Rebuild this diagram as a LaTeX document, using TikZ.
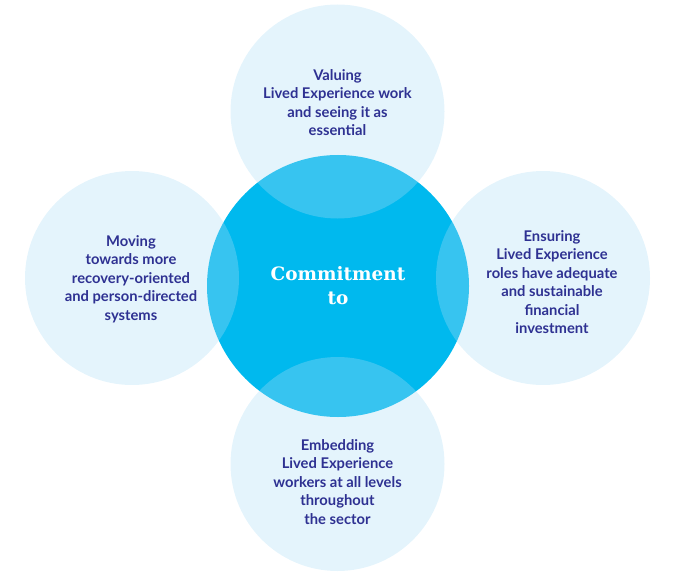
\documentclass[tikz,border=0pt]{standalone}
\usepackage{fontspec}
\usepackage{xcolor}
\newfontfamily\petalfont{Lato}
\newfontfamily\hubfont{DejaVu Serif}
\definecolor{hubblue}{HTML}{00B9EE}
\definecolor{petalblue}{RGB}{172,221,245}
\definecolor{textblue}{HTML}{2E3192}

\begin{document}
\begin{tikzpicture}[x=1bp,y=-1bp,
    hub/.style={circle,fill=hubblue,minimum size=262bp,inner sep=0pt},
    petal/.style={circle,fill=petalblue,fill opacity=.32,minimum size=214bp,inner sep=0pt},
    hubtext/.style={text=white,align=center,font=\hubfont\bfseries\fontsize{18.5}{24}\selectfont},
    petaltext/.style={text=textblue,align=center,font=\petalfont\bfseries\fontsize{14.8}{18.6}\selectfont}
  ]
  \useasboundingbox (0,0) rectangle (681,579);
  % centre
  \node[hub] (hub) at (338,286) {};
  % the four petals, laid over the centre
  \node[petal] (valuing) at (337.5,111.5) {};
  \node[petal] (moving) at (132,278) {};
  \node[petal] (ensuring) at (543,278) {};
  \node[petal] (embedding) at (337.5,464) {};
  % texts
  \node[hubtext] (hublabel) at (hub) {Commitment\\to};
  \node[petaltext] (valuinglabel) at ([yshift=9bp]valuing)
    {Valuing\\Lived Experience work\\and seeing it as\\essential};
  \node[petaltext] (movinglabel) at ([xshift=-1bp,yshift=-1bp]moving)
    {Moving\\towards more\\recovery-oriented\\and person-directed\\systems};
  \node[petaltext] (ensuringlabel) at ([xshift=9bp,yshift=-4bp]ensuring)
    {Ensuring\\Lived Experience\\roles have adequate\\and sustainable\\financial\\investment};
  \node[petaltext] (embeddinglabel) at ([yshift=-18bp]embedding)
    {Embedding\\Lived Experience\\workers at all levels\\throughout\\the sector};
\end{tikzpicture}
\end{document}
